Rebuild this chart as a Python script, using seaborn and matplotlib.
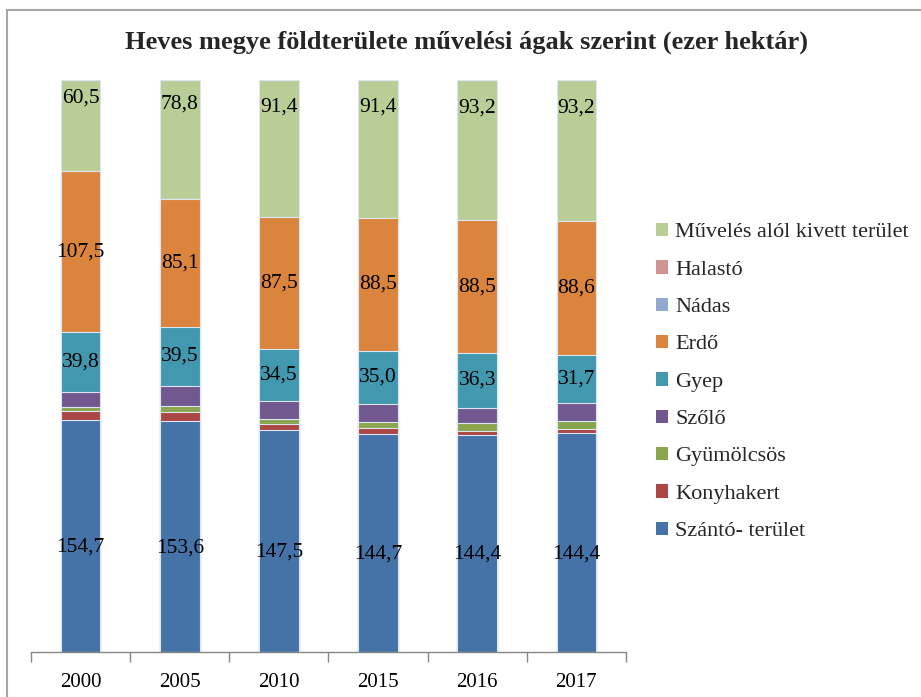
import numpy as np
import pandas as pd
import matplotlib
matplotlib.use("Agg")
import matplotlib.pyplot as plt
import seaborn as sns
from matplotlib.patches import Patch
from matplotlib.lines import Line2D

# Heves megye földterülete (ezer hektár)
years = ["2000", "2005", "2010", "2015", "2016", "2017"]
szanto = [154.7, 153.6, 147.5, 144.7, 144.4, 144.4]
konyhakert = [5.8, 5.8, 4.3, 3.8, 2.9, 2.9]
gyumolcsos = [2.9, 4.4, 3.5, 4.0, 5.1, 5.3]
szolo = [9.6, 12.9, 11.8, 12.2, 10.0, 11.8]
gyep = [39.8, 39.5, 34.5, 35.0, 36.3, 31.7]
erdo = [107.5, 85.1, 87.5, 88.5, 88.5, 88.6]
nadas = [0.0, 0.0, 0.0, 0.0, 0.0, 0.0]
halasto = [0.0, 0.0, 0.0, 0.0, 0.0, 0.0]
muveles = [60.5, 78.8, 91.4, 91.4, 93.2, 93.2]

names = ["Szántó- terület", "Konyhakert", "Gyümölcsös", "Szőlő", "Gyep",
         "Erdő", "Nádas", "Halastó", "Művelés alól kivett terület"]
colors = ["#4572A7", "#AA4643", "#89A54E", "#71588F", "#4198AF",
          "#DB843D", "#93A9CF", "#D19392", "#B9CD96"]
labeled = {"Szántó- terület": 0.45, "Gyep": 0.5, "Erdő": 0.5,
           "Művelés alól kivett terület": 0.8}

df = pd.DataFrame(
    [szanto, konyhakert, gyumolcsos, szolo, gyep, erdo, nadas, halasto, muveles],
    index=names, columns=years).T

# 100% stacked
pct = df.div(df.sum(axis=1), axis=0) * 100
cum = pct.cumsum(axis=1)

sns.set_theme(style="white")
plt.rcParams["font.family"] = ["Liberation Serif", "DejaVu Serif"]

fig = plt.figure(figsize=(9.21, 6.97), dpi=100)
ax = fig.add_axes([31 / 921, 1 - 652 / 697, (626 - 31) / 921, (652 - 80) / 697])

# draw cumulative totals from the top series down so lower ones overlay
for name, col in zip(names[::-1], colors[::-1]):
    d = pd.DataFrame({"year": years, "value": cum[name].values})
    sns.barplot(data=d, x="year", y="value", color=col, width=0.4,
                edgecolor="#dce6f2", linewidth=0.8, saturation=1, ax=ax)

for name, frac in labeled.items():
    lo = cum[name] - pct[name]
    for i, y in enumerate(years):
        ypos = lo[y] + pct[name][y] * frac
        ax.text(i, ypos, f"{df.loc[y, name]:.1f}".replace(".", ","),
                ha="center", va="center", fontsize=15.5, color="black")

ax.set_ylim(0, 100)
ax.set_xlim(-0.5, len(years) - 0.5)
ax.set_xlabel("")
ax.set_ylabel("")
ax.set_yticks([])
for s in ["top", "right", "left"]:
    ax.spines[s].set_visible(False)
ax.spines["bottom"].set_color("#868686")
ax.spines["bottom"].set_linewidth(1.0)
ax.set_xticks(range(len(years)))
ax.set_xticklabels(years, fontsize=15, color="black")
ax.set_xticks(np.arange(-0.5, len(years)), minor=True)
ax.tick_params(axis="x", which="major", length=0, pad=15)
ax.tick_params(axis="x", which="minor", length=7, width=1.0, color="#868686",
               direction="out", bottom=True)

handles = [Patch(facecolor=c, edgecolor="none") for c in colors[::-1]]
fig.legend(handles, names[::-1], loc="center left",
           bbox_to_anchor=(645 / 921, 1 - 382 / 697), frameon=False,
           fontsize=16, handlelength=0.55, handleheight=0.55,
           handletextpad=0.3, labelspacing=0.8, borderpad=0)

fig.text(466 / 921, 1 - 42 / 697,
         "Heves megye földterülete művelési ágak szerint (ezer hektár)",
         ha="center", va="center", fontsize=19, fontweight="bold")

# outer chart frame
fig.add_artist(Line2D([7 / 921, 1], [1 - 10 / 697] * 2, color="#a6a6a6", lw=1.5))
fig.add_artist(Line2D([7 / 921] * 2, [0, 1 - 10 / 697], color="#a6a6a6", lw=1.5))

fig.savefig("out.png", dpi=100)
